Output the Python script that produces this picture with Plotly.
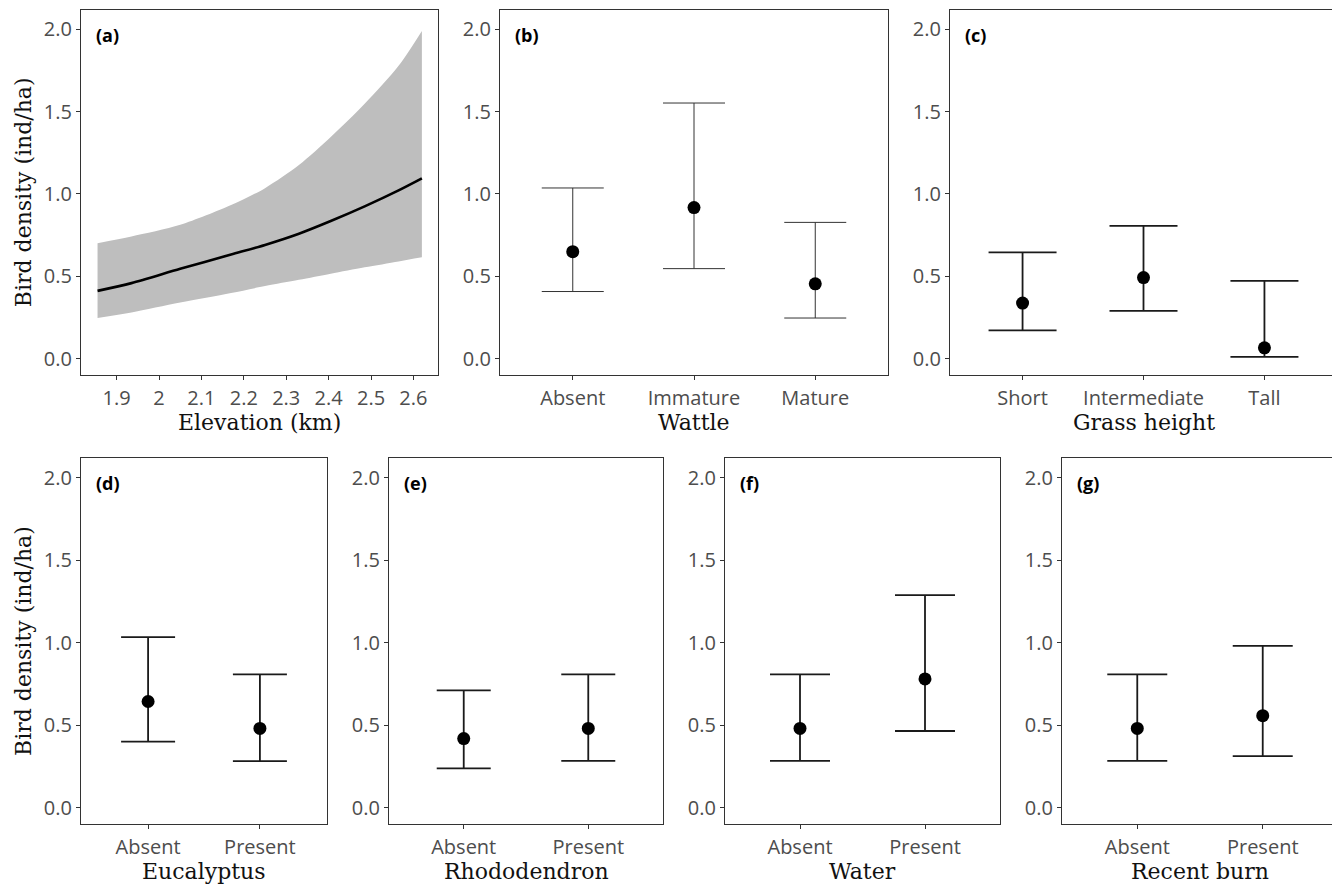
import plotly.graph_objects as go

# ---------------- data ----------------
elevation = [1.855, 1.935, 2.05, 2.17, 2.25, 2.33, 2.405, 2.485, 2.565, 2.62]
elev_fit = [0.411, 0.458, 0.545, 0.632, 0.69, 0.758, 0.835, 0.924, 1.021, 1.094]
elev_upper = [0.70, 0.741, 0.812, 0.932, 1.035, 1.175, 1.345, 1.547, 1.778, 1.99]
elev_lower = [0.246, 0.280, 0.340, 0.398, 0.44, 0.478, 0.515, 0.554, 0.590, 0.615]
elev_ticks = [1.9, 2.0, 2.1, 2.2, 2.3, 2.4, 2.5, 2.6]
elev_ticktext = ["1.9", "2", "2.1", "2.2", "2.3", "2.4", "2.5", "2.6"]

wattle_cat = ["Absent", "Immature", "Mature"]
wattle_mean = [0.649, 0.917, 0.454]
wattle_upper = [1.036, 1.552, 0.827]
wattle_lower = [0.407, 0.546, 0.246]

grass_cat = ["Short", "Intermediate", "Tall"]
grass_mean = [0.337, 0.492, 0.065]
grass_upper = [0.645, 0.806, 0.472]
grass_lower = [0.171, 0.290, 0.010]

euc_cat = ["Absent", "Present"]
euc_mean = [0.643, 0.480]
euc_upper = [1.033, 0.808]
euc_lower = [0.400, 0.281]

rhodo_cat = ["Absent", "Present"]
rhodo_mean = [0.418, 0.480]
rhodo_upper = [0.710, 0.808]
rhodo_lower = [0.237, 0.283]

water_cat = ["Absent", "Present"]
water_mean = [0.480, 0.780]
water_upper = [0.808, 1.288]
water_lower = [0.283, 0.464]

burn_cat = ["Absent", "Present"]
burn_mean = [0.480, 0.557]
burn_upper = [0.808, 0.981]
burn_lower = [0.283, 0.312]

y_ticks = [0.0, 0.5, 1.0, 1.5, 2.0]
y_title = "Bird density (ind/ha)"

# ---------------- layout helpers ----------------
OFF = 8                      # page body margin of the browser
W, H = 1340 - OFF, 886 - OFF
TICK_FONT = dict(family="Open Sans", size=20, color="#4D4D4D")
TITLE_FONT = dict(family="DejaVu Serif", size=22, color="#111111")
LABEL_FONT = dict(family="Open Sans", size=18, color="#000000")


def px_x(p):
    return (p - OFF) / W


def px_y(p):
    return 1 - (p - OFF) / H


top_y = [px_y(375), px_y(9.5)]
bot_y = [px_y(824), px_y(458)]

panels = [
    ("a", (81, 438), top_y, "(a)", "Elevation (km)"),
    ("b", (500, 888), top_y, "(b)", "Wattle"),
    ("c", (950, 1337), top_y, "(c)", "Grass height"),
    ("d", (81, 327), bot_y, "(d)", "Eucalyptus"),
    ("e", (389, 663), bot_y, "(e)", "Rhododendron"),
    ("f", (725, 1000), bot_y, "(f)", "Water"),
    ("g", (1062, 1338), bot_y, "(g)", "Recent burn"),
]

cat_data = {
    "b": (wattle_cat, wattle_mean, wattle_upper, wattle_lower, 31, 1.0),
    "c": (grass_cat, grass_mean, grass_upper, grass_lower, 34, 1.8),
    "d": (euc_cat, euc_mean, euc_upper, euc_lower, 27, 1.8),
    "e": (rhodo_cat, rhodo_mean, rhodo_upper, rhodo_lower, 27, 1.8),
    "f": (water_cat, water_mean, water_upper, water_lower, 30, 1.8),
    "g": (burn_cat, burn_mean, burn_upper, burn_lower, 30, 1.8),
}

fig = go.Figure()
layout = dict(
    width=W, height=H,
    margin=dict(l=0, r=0, t=0, b=0, pad=0),
    paper_bgcolor="white", plot_bgcolor="white",
    showlegend=False,
)
annotations = []

for i, (key, (xl, xr), ydom, label, xtitle) in enumerate(panels):
    n = "" if i == 0 else str(i + 1)
    xa, ya = "xaxis" + n, "yaxis" + n
    xref, yref = "x" + n, "y" + n
    common = dict(showline=True, linecolor="#333333", linewidth=1.2, mirror=True,
                  ticks="outside", ticklen=4, tickcolor="#333333", tickwidth=1,
                  showgrid=False, zeroline=False, tickfont=TICK_FONT)
    layout[ya] = dict(domain=ydom, anchor=xref, range=[-0.1, 2.12],
                      tickvals=y_ticks, ticktext=["%.1f" % v for v in y_ticks],
                      ticklabelstandoff=0, **common)
    if key == "a":
        layout[xa] = dict(domain=[px_x(xl), px_x(xr)], anchor=yref, range=[1.816, 2.658],
                          tickvals=elev_ticks, ticktext=elev_ticktext,
                          ticklabelstandoff=1, **common)
        fig.add_trace(go.Scatter(
            x=elevation, y=elev_lower, mode="lines",
            line=dict(width=0, shape="spline", smoothing=0.8, color="#BEBEBE"),
            hoverinfo="skip", xaxis=xref, yaxis=yref))
        fig.add_trace(go.Scatter(
            x=elevation, y=elev_upper, mode="lines", fill="tonexty", fillcolor="#BEBEBE",
            line=dict(width=0, shape="spline", smoothing=0.8, color="#BEBEBE"),
            hoverinfo="skip", xaxis=xref, yaxis=yref))
        fig.add_trace(go.Scatter(
            x=elevation, y=elev_fit, mode="lines",
            line=dict(color="black", width=2.6, shape="spline", smoothing=0.8),
            xaxis=xref, yaxis=yref))
    else:
        cats, mean, up, lo, capw, th = cat_data[key]
        layout[xa] = dict(domain=[px_x(xl), px_x(xr)], anchor=yref, type="category",
                          range=[-0.6, len(cats) - 0.4], ticklabelstandoff=1, **common)
        fig.add_trace(go.Scatter(
            x=cats, y=mean, mode="markers",
            marker=dict(color="black", size=13),
            error_y=dict(type="data", symmetric=False,
                         array=[u - m for u, m in zip(up, mean)],
                         arrayminus=[m - l for m, l in zip(mean, lo)],
                         color="#1a1a1a" if th > 1 else "#333333",
                         thickness=th, width=capw),
            xaxis=xref, yaxis=yref))
    # panel label
    annotations.append(dict(text="<b>%s</b>" % label, xref=xref + " domain", yref=yref + " domain",
                            x=0, y=1, xanchor="left", yanchor="middle", xshift=13, yshift=-25,
                            showarrow=False, font=LABEL_FONT))
    # x title
    annotations.append(dict(text=xtitle, xref=xref + " domain", yref=yref + " domain",
                            x=0.5, y=0, xanchor="center", yanchor="middle", yshift=-47,
                            showarrow=False, font=TITLE_FONT))
    if key in ("a", "d"):
        annotations.append(dict(text=y_title, xref="paper", yref=yref + " domain",
                                x=px_x(23), y=0.5, xanchor="center", yanchor="middle",
                                textangle=-90, showarrow=False, font=TITLE_FONT))

layout["annotations"] = annotations
fig.update_layout(**layout)
fig.write_html("out.html")
